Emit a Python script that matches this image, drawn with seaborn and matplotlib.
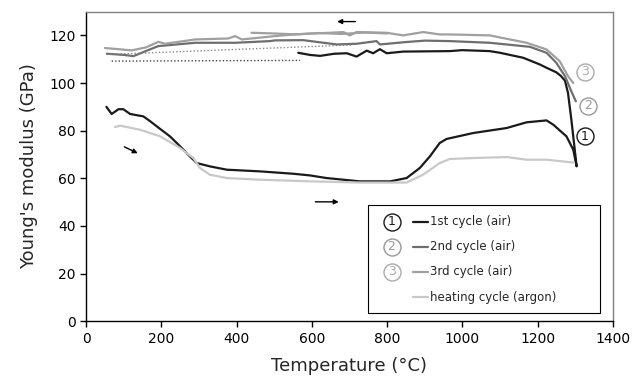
import numpy as np
import pandas as pd
import matplotlib
matplotlib.use("Agg")
import matplotlib.pyplot as plt
import seaborn as sns
from matplotlib.patches import Rectangle

# 1st cycle in air: heating then cooling (deg C, GPa)
t_cycle1 = [54, 68, 86, 99, 117, 152, 170, 197, 223, 250, 276, 294, 329, 374, 462,
            551, 595, 639, 728, 808, 852, 887, 914, 940, 958, 1029, 1118, 1171, 1224,
            1242, 1277, 1295, 1304,
            1290, 1281, 1273, 1262, 1250, 1224, 1206, 1162, 1100, 1073, 1000, 967,
            843, 799, 781, 763, 746, 719, 693, 660, 622, 595, 564]
e_cycle1 = [90, 87, 89, 89, 87, 86, 84, 80.7, 77.6, 73.4, 69.2, 66.4, 65, 63.6, 62.9,
            61.9, 61.2, 60.1, 58.7, 58.7, 60.1, 64.3, 69.2, 74.8, 76.5, 79, 81.1, 83.5, 84.3,
            82.5, 77.6, 72, 65,
            84.6, 95.9, 101, 103, 104.5, 106.4, 107.8, 110.6, 112.7, 113.4, 113.8, 113.4,
            113.2, 112.5, 114.2, 112.5, 113.6, 111.1, 112.5, 112.3, 111.4, 111.8, 112.7]

# 2nd cycle in air (cooling)
t_cycle2 = [1302, 1290, 1273, 1250, 1224, 1180, 1073, 967, 900, 850, 781, 772, 720,
            666, 577, 502, 489, 396, 290, 192, 160, 126, 100, 55]
e_cycle2 = [92.3, 96.5, 102.9, 108.5, 112.7, 115.2, 116.9, 117.6, 117.8, 117.2, 116.2,
            117.6, 116.5, 116.2, 118, 117.9, 117.6, 116.9, 116.9, 115.5, 113.5, 111.3,
            111.8, 112.3]

# 3rd cycle in air (cooling)
t_cycle3 = [1295, 1281, 1259, 1224, 1171, 1073, 967, 940, 896, 843, 799, 719, 701, 684,
            648, 560, 502, 458, 414, 396, 378, 290, 210, 192, 160, 121, 80, 50]
e_cycle3 = [100, 102.9, 109.2, 114.1, 116.9, 120, 120.4, 120.4, 121.4, 120, 121.1, 121.4,
            120, 121.4, 121.1, 120.5, 119.7, 119, 118.3, 119.7, 118.7, 118.3, 116.5, 117.3,
            115, 113.7, 114.3, 114.7]
# 3rd cycle, heating part
t_cycle3_heat = [440, 502, 560, 620, 680, 740, 800]
e_cycle3_heat = [121.1, 120.8, 120.4, 121, 120.6, 121.2, 120.8]

# heating cycle in argon
t_argon = [77, 90, 143, 197, 250, 285, 303, 329, 374, 462, 600, 728, 852, 896, 940,
           967, 1029, 1118, 1171, 1224, 1295]
e_argon = [81.5, 82.1, 80.4, 77.6, 72.7, 68.5, 64.3, 61.5, 60.1, 59.4, 58.7, 58.2,
           58.2, 61.5, 66.4, 68.1, 68.5, 68.9, 67.8, 67.8, 66.6]

# dotted extrapolations to room temperature
t_extra1 = [68, 569]
e_extra1 = [109.2, 109.5]
t_extra2 = [55, 710]
e_extra2 = [112, 116]

legend_labels = ["1st cycle (air)", "2nd cycle (air)", "3rd cycle (air)", "heating cycle (argon)"]
colors = ["#1a1a1a", "#6e6e6e", "#a0a0a0", "#c8c8c8"]
circle_colors = ["#1a1a1a", "#999999", "#aaaaaa"]

sns.set_theme(style="white")
plt.rcParams['font.family'] = ['DejaVu Sans']

fig = plt.figure(figsize=(6.33, 3.86), dpi=100)
ax = fig.add_axes([0.136, 0.168, 0.832, 0.802])

series = [
    (t_cycle1, e_cycle1, colors[0]),
    (t_cycle2, e_cycle2, colors[1]),
    (t_cycle3, e_cycle3, colors[2]),
    (t_cycle3_heat, e_cycle3_heat, colors[2]),
    (t_argon, e_argon, colors[3]),
]
for t, e, c in series:
    df = pd.DataFrame({"T": t, "E": e})
    sns.lineplot(data=df, x="T", y="E", sort=False, estimator=None, color=c,
                 linewidth=1.6, ax=ax)

ax.plot(t_extra1, e_extra1, linestyle=(0, (1, 1.5)), color="#444444", linewidth=1)
ax.plot(t_extra2, e_extra2, linestyle=(0, (1, 1.5)), color="#888888", linewidth=1)

ax.set_xlim(0, 1400)
ax.set_ylim(0, 130)
ax.set_xticks(range(0, 1401, 200))
ax.set_yticks(range(0, 121, 20))
ax.set_xlabel("Temperature (°C)", fontsize=13, labelpad=8)
ax.set_ylabel("Young's modulus (GPa)", fontsize=13, labelpad=8)
ax.tick_params(axis="both", labelsize=10, length=4, width=1, direction="out",
               bottom=True, left=True, colors="#000000")
for side in ["left", "bottom"]:
    ax.spines[side].set_color("#000000")
    ax.spines[side].set_linewidth(1)
for side in ["top", "right"]:
    ax.spines[side].set_color("#808080")
    ax.spines[side].set_linewidth(1)

# direction arrows
arrow = dict(arrowstyle="-|>", color="#000000", lw=1, mutation_scale=7)
ax.annotate("", xy=(660, 125.8), xytext=(723, 125.8), arrowprops=arrow)
ax.annotate("", xy=(144, 70), xytext=(95, 73.7), arrowprops=arrow)
ax.annotate("", xy=(679, 50.1), xytext=(602, 50.1), arrowprops=arrow)

# circled cycle numbers next to the curves
def circled(x, y, num, color, transform):
    ax.scatter([x], [y], s=150, marker="o", facecolor="white", edgecolor=color,
               linewidth=1, transform=transform, zorder=5, clip_on=False)
    ax.text(x, y, num, color=color, fontsize=9, ha="center", va="center",
            transform=transform, zorder=6)

circled(0.947, 0.806, "3", circle_colors[2], ax.transAxes)
circled(0.953, 0.695, "2", circle_colors[1], ax.transAxes)
circled(0.947, 0.598, "1", circle_colors[0], ax.transAxes)

# legend box
ax.add_patch(Rectangle((0.535, 0.025), 0.44, 0.35, transform=ax.transAxes,
                       facecolor="white", edgecolor="#000000", linewidth=0.8, zorder=4))
rows = [0.321, 0.240, 0.159, 0.078]
for i, (lab, c) in enumerate(zip(legend_labels, colors)):
    y = rows[i]
    if i < 3:
        circled(0.580, y, str(i + 1), circle_colors[i], ax.transAxes)
    ax.plot([0.620, 0.649], [y, y], color=c, linewidth=1.6, transform=ax.transAxes,
            zorder=5)
    ax.text(0.653, y, lab, fontsize=8.5, ha="left", va="center",
            transform=ax.transAxes, zorder=6)

fig.savefig("out.png", dpi=100)
